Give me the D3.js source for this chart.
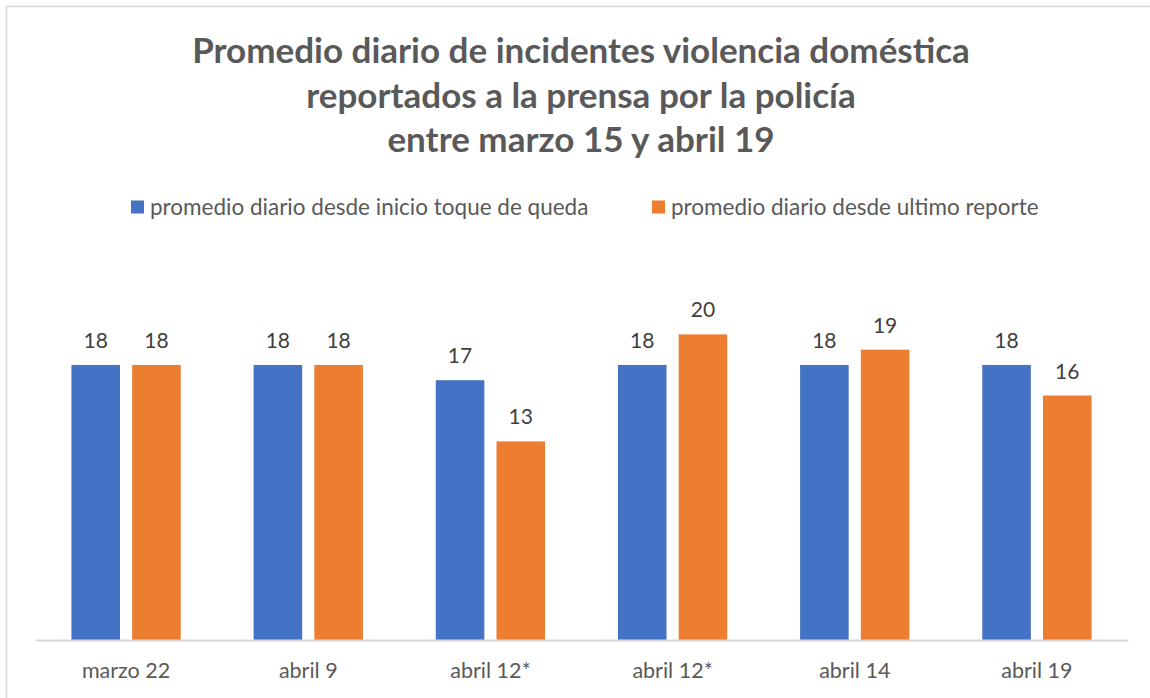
<!DOCTYPE html>
<html>
<head>
<meta charset="utf-8">
<script src="https://cdn.jsdelivr.net/npm/d3@7"></script>
<style>
  body { margin: 0; background: #fff; }
  svg { display: block; font-family: Lato, "Open Sans", sans-serif; }
</style>
</head>
<body>
<div class="chart"></div>
<script>
var svgWidth = 1150;
var svgHeight = 698;

// chart data
var categories = ["marzo 22", "abril 9", "abril 12*", "abril 12*", "abril 14", "abril 19"];
var seriesNames = ["promedio diario desde inicio toque de queda", "promedio diario desde ultimo reporte"];
var desdeInicio = [18, 18, 17, 18, 18, 18];
var desdeUltimo = [18, 18, 13, 20, 19, 16];
var seriesColors = ["#4472C4", "#ED7D31"];
var titleLines = [
  "Promedio diario de incidentes violencia doméstica",
  "reportados a la prensa por la policía",
  "entre marzo 15 y abril 19"
];

var plot = { left: 35, right: 1128, top: 258, bottom: 640 };

var svg = d3.select(".chart")
  .append("svg")
  .attr("width", svgWidth)
  .attr("height", svgHeight);

// outer frame (cut off on the right and bottom like the picture)
svg.append("rect")
  .attr("x", 6.5)
  .attr("y", 6.5)
  .attr("width", svgWidth + 10)
  .attr("height", svgHeight + 10)
  .attr("fill", "none")
  .attr("stroke", "#d9d9d9")
  .attr("stroke-width", 1.5);

// title
svg.append("text")
  .attr("text-anchor", "middle")
  .attr("fill", "#595959")
  .attr("font-weight", 700)
  .attr("font-size", "35px")
  .selectAll("tspan")
  .data(titleLines)
  .enter()
  .append("tspan")
  .attr("x", 581)
  .attr("y", (d, i) => 63 + i * 44.5)
  .text(d => d);

// scales
var x0 = d3.scaleBand()
  .domain(d3.range(categories.length))
  .range([plot.left, plot.right])
  .paddingInner(0.4)
  .paddingOuter(0.2);

var x1 = d3.scaleBand()
  .domain([0, 1])
  .range([0, x0.bandwidth()])
  .paddingInner(0.2);

var y = d3.scaleLinear()
  .domain([0, 25])
  .range([plot.bottom, plot.top]);

var rows = categories.map((c, i) => ({ i: i, vals: [desdeInicio[i], desdeUltimo[i]] }));

var groups = svg.selectAll("g.cat")
  .data(rows)
  .enter()
  .append("g")
  .attr("class", "cat")
  .attr("transform", d => `translate(${x0(d.i)}, 0)`);

groups.selectAll("rect")
  .data(d => d.vals.map((v, s) => ({ v: v, s: s })))
  .enter()
  .append("rect")
  .attr("x", d => x1(d.s))
  .attr("y", d => y(d.v))
  .attr("width", x1.bandwidth())
  .attr("height", d => y(0) - y(d.v))
  .attr("fill", d => seriesColors[d.s]);

// value labels
groups.selectAll("text.val")
  .data(d => d.vals.map((v, s) => ({ v: v, s: s })))
  .enter()
  .append("text")
  .attr("class", "val")
  .attr("x", d => x1(d.s) + x1.bandwidth() / 2)
  .attr("y", d => y(d.v) - 17)
  .attr("text-anchor", "middle")
  .attr("font-size", "21px")
  .attr("fill", "#404040")
  .text(d => d.v);

// x axis
var bottomAxis = d3.axisBottom(x0)
  .tickSize(0)
  .tickPadding(23)
  .tickFormat(i => categories[i]);

var xAxis = svg.append("g")
  .attr("transform", `translate(0, ${plot.bottom})`)
  .call(bottomAxis);

xAxis.select(".domain")
  .attr("stroke", "#d9d9d9")
  .attr("stroke-width", 2);

xAxis.selectAll("text")
  .attr("font-family", "Lato, 'Open Sans', sans-serif")
  .attr("font-size", "21.5px")
  .attr("fill", "#595959");

// legend
var legendX = [131, 652];
var legend = svg.selectAll("g.legend")
  .data(seriesNames)
  .enter()
  .append("g")
  .attr("class", "legend")
  .attr("transform", (d, i) => `translate(${legendX[i]}, 207)`);

legend.append("rect")
  .attr("x", 0)
  .attr("y", -6.5)
  .attr("width", 13)
  .attr("height", 13)
  .attr("fill", (d, i) => seriesColors[i]);

legend.append("text")
  .attr("x", 19)
  .attr("dy", "0.35em")
  .attr("font-size", "22.5px")
  .attr("fill", "#595959")
  .text(d => d);
</script>
</body>
</html>
